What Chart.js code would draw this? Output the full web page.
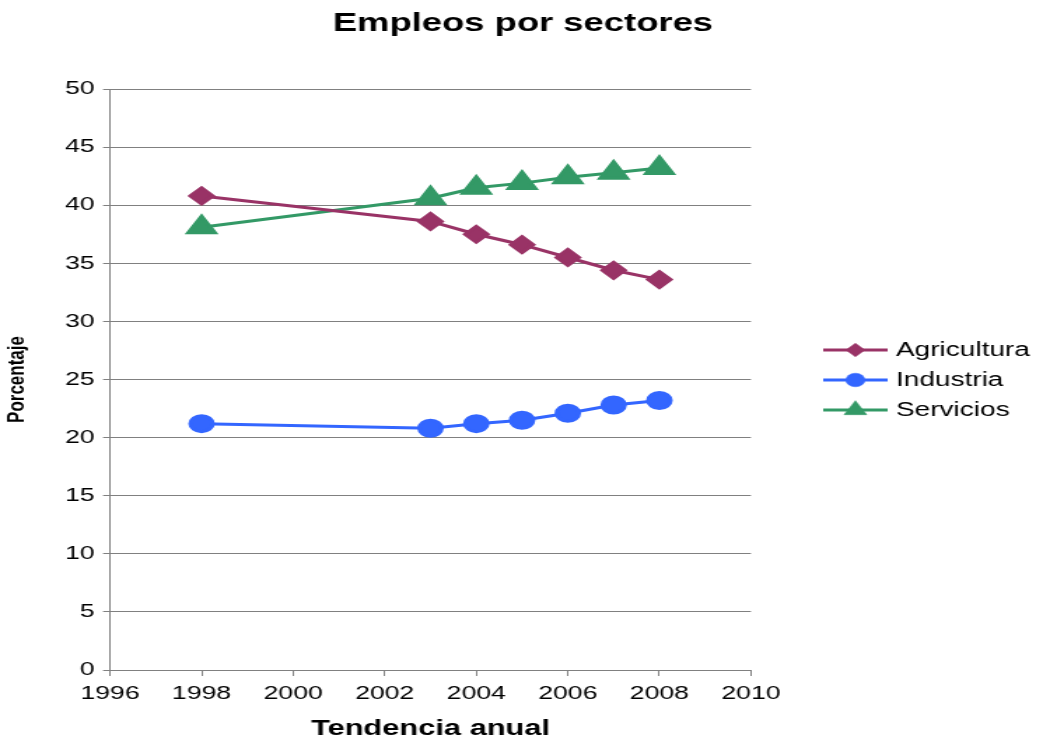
<!DOCTYPE html>
<html>
<head>
<meta charset="utf-8">
<script src="https://cdn.jsdelivr.net/npm/chart.js@4.4.0/dist/chart.umd.min.js"></script>
<style>
  html, body { margin: 0; padding: 0; background: #fff; overflow: hidden; }
  /* the reference is stretched sideways, so draw narrow and stretch the canvas */
  #empleosChart { display: block; width: 1043px; height: 740px; }
</style>
</head>
<body>
<canvas id="empleosChart" width="745" height="740" style="width:1043px;height:740px"></canvas>
<script>
const years = [1998, 2003, 2004, 2005, 2006, 2007, 2008];
const agricultura = [40.8, 38.6, 37.5, 36.6, 35.5, 34.4, 33.6];
const industria = [21.2, 20.8, 21.2, 21.5, 22.1, 22.8, 23.2];
const servicios = [38.1, 40.6, 41.5, 41.9, 42.4, 42.8, 43.2];
const xTicks = [1996, 1998, 2000, 2002, 2004, 2006, 2008, 2010];
const yTicks = [0, 5, 10, 15, 20, 25, 30, 35, 40, 45, 50];

const FONT = "'Liberation Sans', Arial, sans-serif";
const toPoints = (vals) => years.map((y, i) => ({ x: y, y: vals[i] }));

// legend drawn by hand: line + marker, like the spreadsheet legend
const sideLegend = {
    id: "sideLegend",
    afterDraw(chart) {
        const ctx = chart.ctx;
        const x0 = 588, x1 = 634;
        let y = 350;
        chart.data.datasets.forEach((ds) => {
            ctx.save();
            ctx.strokeStyle = ds.borderColor;
            ctx.lineWidth = 3;
            ctx.beginPath();
            ctx.moveTo(x0, y);
            ctx.lineTo(x1, y);
            ctx.stroke();
            ctx.fillStyle = ds.backgroundColor;
            ctx.strokeStyle = ds.backgroundColor;
            ctx.lineWidth = 0.5;
            Chart.helpers.drawPoint(ctx, {
                pointStyle: ds.pointStyle,
                radius: ds.pointRadius * 0.85,
                rotation: 0,
                borderWidth: 0.5
            }, (x0 + x1) / 2, y);
            ctx.fillStyle = "#000";
            ctx.font = "20px " + FONT;
            ctx.textBaseline = "middle";
            ctx.fillText(ds.label, 640, y);
            ctx.restore();
            y += 30;
        });
    }
};

const ctx = document.getElementById("empleosChart").getContext("2d");

const chart = new Chart(ctx, {
    type: "line",
    data: {
        datasets: [
            {
                label: "Agricultura",
                data: toPoints(agricultura),
                borderColor: "#993366",
                backgroundColor: "#993366",
                borderWidth: 3,
                pointStyle: "rectRot",
                pointRadius: 8,
                tension: 0
            },
            {
                label: "Industria",
                data: toPoints(industria),
                borderColor: "#3366FF",
                backgroundColor: "#3366FF",
                borderWidth: 3,
                pointStyle: "circle",
                pointRadius: 8,
                tension: 0
            },
            {
                label: "Servicios",
                data: toPoints(servicios),
                borderColor: "#339966",
                backgroundColor: "#339966",
                borderWidth: 3,
                pointStyle: "triangle",
                pointRadius: 11,
                tension: 0
            }
        ]
    },
    options: {
        responsive: false,
        animation: false,
        layout: {
            padding: { top: 0, right: 0, bottom: 0, left: 2 }
        },
        plugins: {
            legend: { display: false },
            tooltip: { enabled: false },
            title: {
                display: true,
                text: "Empleos por sectores",
                color: "#000",
                font: { family: FONT, size: 26, weight: "bold", lineHeight: 1 },
                padding: { top: 11, bottom: 52 }
            }
        },
        scales: {
            x: {
                type: "linear",
                min: 1996,
                max: 2010,
                afterBuildTicks: (axis) => { axis.ticks = xTicks.map((v) => ({ value: v })); },
                afterFit: (axis) => { axis.height = 70; },
                ticks: {
                    color: "#000",
                    font: { family: FONT, size: 19 },
                    padding: 6,
                    maxRotation: 0,
                    callback: (v) => String(v)
                },
                grid: { drawOnChartArea: false, drawTicks: true, tickLength: 6, color: "#808080" },
                border: { display: true, color: "#808080", width: 1 },
                title: {
                    display: true,
                    text: "Tendencia anual",
                    color: "#000",
                    font: { family: FONT, size: 22, weight: "bold", lineHeight: 1 },
                    padding: { top: 14, bottom: 0 }
                }
            },
            y: {
                min: 0,
                max: 50,
                afterBuildTicks: (axis) => { axis.ticks = yTicks.map((v) => ({ value: v })); },
                afterFit: (axis) => { axis.width = 76.6; },
                ticks: {
                    color: "#000",
                    font: { family: FONT, size: 19 },
                    padding: 6
                },
                grid: { color: "#808080", lineWidth: 1, tickLength: 5 },
                border: { display: true, color: "#808080", width: 1 },
                title: {
                    display: true,
                    text: "Porcentaje",
                    color: "#000",
                    font: { family: FONT, size: 17, weight: "bold", lineHeight: 1.2 },
                    padding: { top: 0, bottom: 0 }
                }
            },
            // empty right axis that keeps room for the legend
            yRight: {
                position: "right",
                display: true,
                min: 0,
                max: 50,
                afterFit: (axis) => { axis.width = 208.6; },
                ticks: { display: false },
                grid: { display: false },
                border: { display: false }
            }
        }
    },
    plugins: [sideLegend]
});
</script>
</body>
</html>
